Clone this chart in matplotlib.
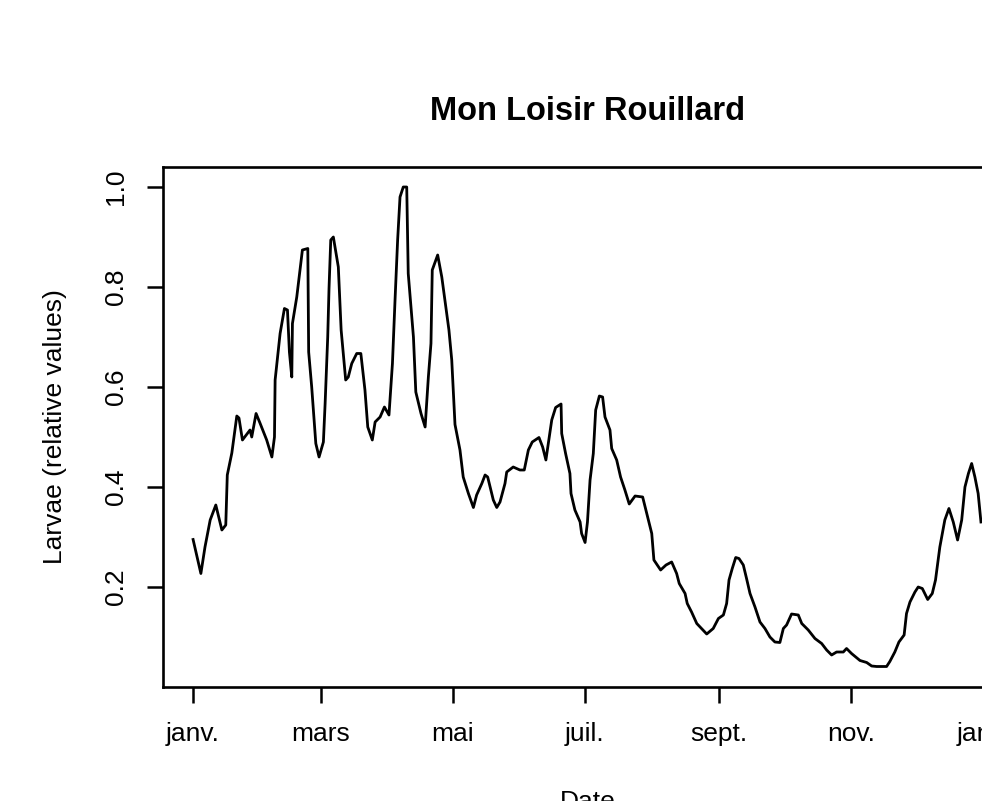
import numpy as np
import matplotlib
matplotlib.use("Agg")
from matplotlib import pyplot as plt
import matplotlib.dates as mdates

plt.rcParams['font.family'] = ['Liberation Sans', 'DejaVu Sans']

# ---- data ----
start_date = '2015-01-01'

# days since start_date
days = [
    0, 3.6, 5.5, 7.9, 10.5, 13.3, 15.1, 15.8, 17.9, 20.2,
    21.2, 22.8, 26.3, 27.1, 29.1, 30.9, 34.0, 36.4, 37.6, 37.9,
    40.2, 42.2, 43.6, 44.5, 45.6, 45.9, 47.9, 49.4, 50.5, 53.0,
    53.4, 54.8, 56.7, 58.2, 60.2, 61.0, 62.2, 62.8, 63.6, 64.8,
    67.1, 68.4, 70.5, 71.7, 73.3, 75.6, 77.5, 79.4, 80.7, 82.8,
    84.1, 86.4, 88.4, 90.5, 92.1, 93.3, 94.5, 95.6, 97.1, 98.7,
    99.4, 101.8, 102.9, 105.3, 107.2, 108.7, 109.9, 110.5, 113.0, 114.9,
    117.2, 118.2, 119.5, 121.0, 123.3, 124.8, 127.2, 129.5, 131.0, 133.4,
    134.9, 136.1, 138.7, 140.3, 141.8, 144.1, 144.9, 147.9, 151.0, 153.0,
    154.9, 156.7, 159.8, 161.5, 163.0, 164.1, 165.7, 167.5, 170.0, 170.3,
    172.1, 174.1, 174.6, 176.4, 178.8, 179.5, 181.1, 182.2, 183.4, 184.9,
    186.0, 187.7, 189.2, 190.3, 192.6, 193.4, 195.7, 197.5, 199.5, 201.5,
    204.2, 207.7, 209.6, 211.9, 212.9, 216.0, 218.5, 221.1, 223.4, 224.6,
    227.3, 228.3, 230.3, 232.7, 237.3, 240.3, 242.7, 245.0, 246.5, 247.6,
    249.1, 250.7, 252.2, 254.2, 255.7, 257.3, 259.6, 261.9, 264.2, 266.5,
    268.8, 271.1, 272.7, 274.2, 276.5, 279.6, 281.2, 284.2, 287.3, 290.4,
    292.7, 295.0, 297.3, 300.4, 301.9, 304.2, 308.1, 311.2, 313.5, 315.8,
    320.4, 321.9, 324.2, 326.1, 328.5, 329.6, 331.2, 333.5, 335.0, 336.9,
    339.4, 341.5, 343.0, 345.0, 347.3, 349.2, 351.2, 353.2, 355.1, 356.6,
    358.2, 359.7, 361.2, 362.7, 364.0,
]

larvae = [
    0.295, 0.227, 0.28, 0.334, 0.364, 0.314, 0.324, 0.424, 0.468, 0.542,
    0.538, 0.494, 0.514, 0.50, 0.547, 0.528, 0.494, 0.46, 0.50, 0.614,
    0.707, 0.757, 0.754, 0.67, 0.62, 0.727, 0.78, 0.834, 0.874, 0.877,
    0.67, 0.60, 0.487, 0.46, 0.49, 0.567, 0.70, 0.797, 0.894, 0.90,
    0.84, 0.714, 0.614, 0.62, 0.647, 0.667, 0.667, 0.594, 0.52, 0.494,
    0.53, 0.54, 0.56, 0.544, 0.647, 0.774, 0.894, 0.98, 1.0, 1.0,
    0.827, 0.70, 0.59, 0.547, 0.52, 0.62, 0.687, 0.834, 0.864, 0.82,
    0.747, 0.714, 0.654, 0.525, 0.474, 0.42, 0.387, 0.359, 0.384, 0.407,
    0.424, 0.42, 0.374, 0.359, 0.37, 0.407, 0.43, 0.44, 0.434, 0.434,
    0.474, 0.49, 0.499, 0.48, 0.454, 0.487, 0.534, 0.559, 0.566, 0.507,
    0.467, 0.427, 0.387, 0.354, 0.33, 0.307, 0.289, 0.33, 0.414, 0.467,
    0.554, 0.582, 0.58, 0.54, 0.514, 0.477, 0.454, 0.42, 0.394, 0.366,
    0.382, 0.38, 0.347, 0.307, 0.254, 0.234, 0.244, 0.25, 0.227, 0.207,
    0.187, 0.167, 0.15, 0.127, 0.106, 0.117, 0.137, 0.144, 0.167, 0.214,
    0.237, 0.259, 0.257, 0.244, 0.217, 0.187, 0.16, 0.13, 0.117, 0.10,
    0.09, 0.089, 0.117, 0.124, 0.146, 0.144, 0.127, 0.114, 0.097, 0.087,
    0.074, 0.064, 0.07, 0.07, 0.077, 0.067, 0.053, 0.049, 0.042, 0.041,
    0.041, 0.051, 0.07, 0.09, 0.104, 0.147, 0.17, 0.19, 0.20, 0.197,
    0.175, 0.187, 0.214, 0.28, 0.334, 0.357, 0.33, 0.294, 0.334, 0.40,
    0.427, 0.447, 0.42, 0.387, 0.33,
]

tick_dates = ['2015-01-01', '2015-03-01', '2015-05-01', '2015-07-01',
              '2015-09-01', '2015-11-01', '2016-01-01']
tick_labels = ['janv.', 'mars', 'mai', 'juil.', 'sept.', 'nov.', 'janv.']
y_ticks = [0.2, 0.4, 0.6, 0.8, 1.0]

# ---- plot ----
W, H = 982, 801
fig = plt.figure(figsize=(W / 100, H / 100), dpi=100)
# R plot region: the right part is cut off in the reference
ax = fig.add_axes([163 / W, (H - 687) / H, 850 / W, 520 / H])

x0 = mdates.date2num(np.datetime64(start_date))
x = x0 + np.array(days)
ax.plot(x, larvae, color='black', lw=2.0, solid_joinstyle='round')

ax.set_xlim(x0 - 13.9, x0 + 378.8)
ax.set_ylim(0.0, 1.04)

ax.set_xticks(mdates.date2num(np.array(tick_dates, dtype='datetime64[D]')))
ax.set_xticklabels(tick_labels)
ax.set_yticks(y_ticks)
ax.set_yticklabels(['%.1f' % v for v in y_ticks], rotation=90, va='center')

ax.tick_params(direction='out', length=11.5, width=1.8, labelsize=19,
               pad=14, colors='black')
for s in ax.spines.values():
    s.set_linewidth(1.9)

fig.text(588 / W, (H - 120) / H, 'Mon Loisir Rouillard', ha='center',
         va='baseline', fontsize=23.5, fontweight='bold')
fig.text(588 / W, (H - 809) / H, 'Date', ha='center', va='baseline',
         fontsize=19)
fig.text(55 / W, (H - 427) / H, 'Larvae (relative values)', ha='center',
         va='center', rotation=90, fontsize=19)

fig.savefig('out.png', dpi=100)
